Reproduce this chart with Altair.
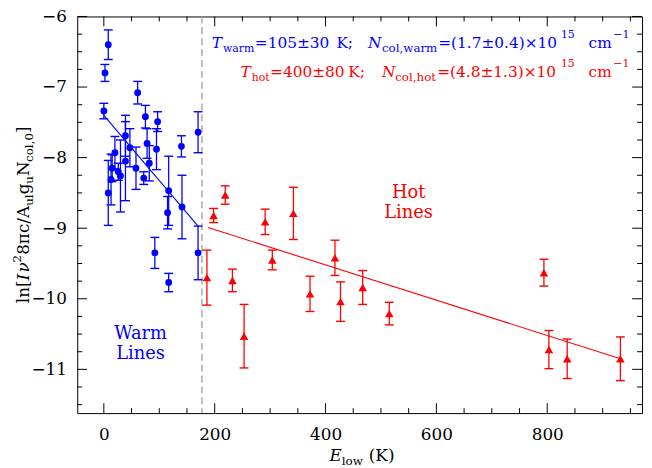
import altair as alt
import pandas as pd

# ---------------- data ----------------
warm_x = [8, 2, 0, 61, 75, 97, 170, 39, 140, 78, 95, 47, 20, 39, 82, 15, 58, 26, 30, 13, 72, 8, 117, 115, 141, 92, 170, 117]
warm_y = [-6.40, -6.80, -7.34, -7.08, -7.42, -7.49, -7.64, -7.69, -7.84, -7.80, -7.88, -7.86, -7.93, -8.05,
          -8.08, -8.15, -8.15, -8.20, -8.26, -8.31, -8.29, -8.50, -8.47, -8.78, -8.70, -9.35, -9.35, -9.77]
warm_err = [0.21, 0.12, 0.11, 0.16, 0.16, 0.14, 0.29, 0.29, 0.15, 0.21, 0.29, 0.27, 0.23, 0.56,
            0.25, 0.19, 0.30, 0.12, 0.51, 0.36, 0.09, 0.46, 0.49, 0.23, 0.45, 0.22, 0.38, 0.13]

hot_x = [198, 219, 186, 232, 253, 291, 342, 304, 372, 417, 427, 467, 515, 794, 803, 836, 932]
hot_y = [-8.82, -8.53, -9.70, -9.74, -10.53, -8.91, -8.79, -9.45, -9.93, -9.42, -10.04, -9.84, -10.21,
         -9.63, -10.72, -10.85, -10.85]
hot_err = [0.10, 0.13, 0.39, 0.16, 0.45, 0.18, 0.37, 0.14, 0.25, 0.25, 0.28, 0.24, 0.16, 0.19, 0.27, 0.28, 0.31]

warm_fit_x = [0, 170]
warm_fit_y = [-7.40, -8.97]
hot_fit_x = [188, 932]
hot_fit_y = [-8.99, -10.85]

divider_x = [177]

x_major = [0, 200, 400, 600, 800]
x_minor = [50, 100, 150, 250, 300, 350, 450, 500, 550, 650, 700, 750, 850, 900, 950]
y_major = [-11, -10, -9, -8, -7, -6]
y_minor = [-11.5, -11.25, -10.75, -10.5, -10.25, -9.75, -9.5, -9.25, -8.75, -8.5, -8.25,
           -7.75, -7.5, -7.25, -6.75, -6.5, -6.25]

# ---------------- layout / style ----------------
X_DOMAIN = [-48, 971]
Y_DOMAIN = [-11.62, -6.0]
W, H = 571, 401
OX, OY = 78, 14          # page position of the plot area's top-left corner
FONT = "DejaVu Serif"
BLUE = "#0000ff"
RED = "#ff0000"

xs = alt.Scale(domain=X_DOMAIN, nice=False, zero=False)
ys = alt.Scale(domain=Y_DOMAIN, nice=False, zero=False)
xaxis = alt.Axis(values=x_major, ticks=False, domain=False, grid=False, labelFont=FONT,
                 labelFontSize=17, labelPadding=14, labelColor="black", title=None, labelFlush=False)
yaxis = alt.Axis(values=y_major, ticks=False, domain=False, grid=False, labelFont=FONT,
                 labelFontSize=17, labelPadding=11, labelColor="black", title=None)


def X(f):
    return alt.X(f, type="quantitative", scale=xs, axis=xaxis)


def Y(f):
    return alt.Y(f, type="quantitative", scale=ys, axis=yaxis)


def err_df(xv, yv, ev):
    return pd.DataFrame({"x": xv, "y": yv,
                         "lo": [a - b for a, b in zip(yv, ev)],
                         "hi": [a + b for a, b in zip(yv, ev)]})


warm = err_df(warm_x, warm_y, warm_err)
hot = err_df(hot_x, hot_y, hot_err)

layers = []


# frame ticks (inward)
def xtick_layer(vals, y0, y1):
    return alt.Chart(pd.DataFrame({"v": vals})).mark_rule(color="black", strokeWidth=1).encode(
        x=X("v"), y=alt.value(y0), y2=alt.value(y1))


def ytick_layer(vals, x0, x1):
    return alt.Chart(pd.DataFrame({"v": vals})).mark_rule(color="black", strokeWidth=1).encode(
        y=Y("v"), x=alt.value(x0), x2=alt.value(x1))


layers += [
    xtick_layer(x_major, H, H - 10), xtick_layer(x_minor, H, H - 5),
    xtick_layer(x_major, 0, 10), xtick_layer(x_minor, 0, 5),
    ytick_layer(y_major, 0, 10), ytick_layer(y_minor, 0, 5),
    ytick_layer(y_major, W, W - 10), ytick_layer(y_minor, W, W - 5),
]

# divider
layers.append(alt.Chart(pd.DataFrame({"v": divider_x})).mark_rule(
    color="#a8a8a8", strokeWidth=1.5, strokeDash=[7, 4]).encode(x=X("v")))

# fit lines
layers.append(alt.Chart(pd.DataFrame({"x": warm_fit_x, "y": warm_fit_y})).mark_line(
    color=BLUE, strokeWidth=1.1).encode(x=X("x"), y=Y("y")))
layers.append(alt.Chart(pd.DataFrame({"x": hot_fit_x, "y": hot_fit_y})).mark_line(
    color=RED, strokeWidth=1.1).encode(x=X("x"), y=Y("y")))

# error bars + caps + points
for df, col, shape, size in [(warm, BLUE, "circle", 48), (hot, RED, "triangle-up", 75)]:
    base = alt.Chart(df)
    layers.append(base.mark_rule(color=col, strokeWidth=1.3).encode(x=X("x"), y=Y("lo"), y2="hi"))
    layers.append(base.mark_point(shape="stroke", size=81, strokeWidth=1.4, color=col, opacity=1).encode(
        x=X("x"), y=Y("lo")))
    layers.append(base.mark_point(shape="stroke", size=81, strokeWidth=1.4, color=col, opacity=1).encode(
        x=X("x"), y=Y("hi")))
    layers.append(base.mark_point(shape=shape, size=size, filled=True, color=col, opacity=1).encode(
        x=X("x"), y=Y("y")))

# ---------------- text ----------------
W_EM = {" ": 0.318, "0": 0.636, "1": 0.636, "2": 0.636, "3": 0.636, "4": 0.636, "5": 0.636,
        "7": 0.636, "8": 0.636, "l": 0.320, "n": 0.644, "[": 0.390, "]": 0.390, "I": 0.471,
        "ν": 0.600, "π": 0.660, "c": 0.563, "/": 0.337, "A": 0.722, "u": 0.642, "g": 0.637,
        "N": 0.838, "o": 0.602, ",": 0.318, "E": 0.731, "w": 0.856, "(": 0.390, ")": 0.390,
        "K": 0.782, "a": 0.596, "r": 0.478, "m": 0.949, "h": 0.644, "t": 0.402, "T": 0.700,
        "=": 0.838, "±": 0.838, "×": 0.838, ".": 0.318, ";": 0.337, "−": 0.838}


def tw(s, size):
    return sum(W_EM.get(ch, 0.6) for ch in s) * size


def text_layer(txt, page_x, page_y, size, italic=False, color="black", angle=0, align="left",
               baseline="alphabetic"):
    kw = dict(font=FONT, fontSize=size, color=color, align=align, baseline=baseline, angle=angle)
    if italic:
        kw["fontStyle"] = "italic"
    return alt.Chart(pd.DataFrame({"t": [txt]})).mark_text(**kw).encode(
        text="t:N", x=alt.value(page_x - OX), y=alt.value(page_y - OY))


# annotation lines: (text, page x, baseline shift, size, italic)
M = 15.5
anno_lines = [
    (BLUE, 46, [("T", 214, 0, M, True), ("warm", 225, 3.5, 11, False),
                ("=105±30", 250, 0, M, False), ("K;", 340, 0, M, False),
                ("N", 372, 0, M, True), ("col,warm", 386, 3.5, 12, False),
                ("=(1.7±0.4)×10", 443, 0, M, False), ("15", 567, -10, 11, False),
                ("cm", 595, 0, M, False), ("−1", 620, -10, 11, False)]),
    (RED, 75, [("T", 243, 0, M, True), ("hot", 254, 4, 11, False),
               ("=400±80", 272, 0, M, False), ("K;", 352, 0, M, False),
               ("N", 386, 0, M, True), ("col,hot", 399, 4, 12, False),
               ("=(4.8±1.3)×10", 442, 0, M, False), ("15", 567, -10, 11, False),
               ("cm", 595, 0, M, False), ("−1", 620, -10, 11, False)]),
]
for col, base_y, segs in anno_lines:
    prev_end = 0
    for t, px, dy, s, it in segs:
        px = max(px, prev_end + 0.5)
        layers.append(text_layer(t, px, base_y + dy, s, it, col))
        prev_end = px + tw(t, s)

for t, px, py, c in [("Hot", 413, 193, RED), ("Lines", 413, 213, RED),
                     ("Warm", 142, 335, BLUE), ("Lines", 142, 355, BLUE)]:
    layers.append(text_layer(t, px, py, 18, False, c, align="center", baseline="middle"))

# x title: E_low (K)
xt = [("E", "main", True, 0), ("low", "sub", False, 0), ("(K)", "main", False, 6)]
MS, SS = 17, 12
cx = 333
for t, k, it, gap in xt:
    s = MS if k == "main" else SS
    cx += gap
    layers.append(text_layer(t, cx, 463 if k == "main" else 467, s, it))
    cx += tw(t, s)

# y title: ln[Iν²8πc/A_ul g_u N_col,0]  (rotated, reading upward)
yt = [("ln[", "main", False), ("I", "main", True), ("ν", "main", True), ("2", "sup", False),
      ("8πc/A", "main", False), ("ul", "sub", False), ("g", "main", False), ("u", "sub", False),
      ("N", "main", False), ("col,0", "sub", False), ("]", "main", False)]
MS, SS = 17, 12
tot = sum(tw(t, MS if k == "main" else SS) for t, k, _ in yt)
cy = OY + H / 2 + tot / 2
for t, k, it in yt:
    s = MS if k == "main" else SS
    bx = {"main": 29, "sub": 33, "sup": 21}[k]
    layers.append(text_layer(t, bx, cy, s, it, angle=270))
    cy -= tw(t, s)

chart = alt.layer(*layers).properties(
    width=W, height=H,
    autosize=alt.AutoSizeParams(type="none"),
    padding={"left": OX - 8, "top": OY - 8, "right": 2, "bottom": 60},
    background="white",
).configure_view(stroke="black", strokeWidth=1)

chart.save("out.html", embed_options={"renderer": "svg", "actions": False})
